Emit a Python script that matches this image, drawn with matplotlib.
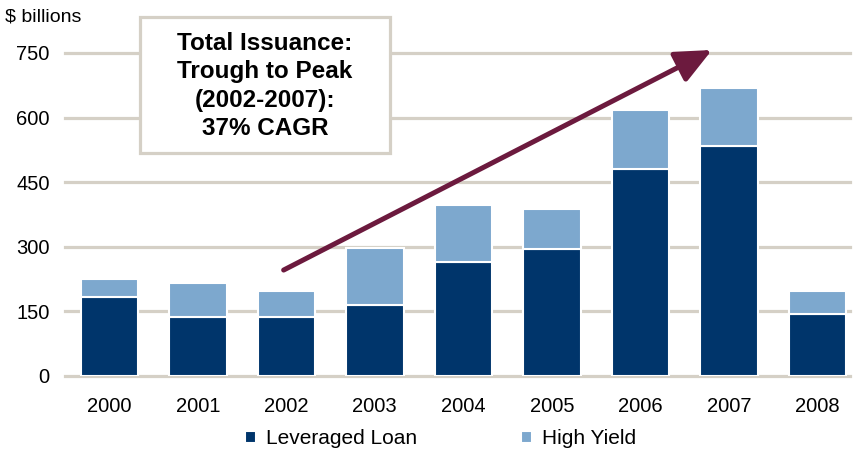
import matplotlib
matplotlib.use("Agg")
import matplotlib.pyplot as plt
from matplotlib.patches import FancyArrowPatch, Rectangle
import numpy as np

plt.rcParams['font.family'] = ['Liberation Sans', 'DejaVu Sans']

years = ["2000", "2001", "2002", "2003", "2004", "2005", "2006", "2007", "2008"]
leveraged_loan = [183, 137, 137, 165, 265, 295, 480, 535, 143]
high_yield = [42, 79, 60, 132, 132, 93, 138, 133, 54]
y_ticks = [0, 150, 300, 450, 600, 750]

navy = "#00356B"
light = "#7DA8CE"
grid_c = "#D5D0C6"
maroon = "#6C1A3E"

fig = plt.figure(figsize=(8.56, 4.51), dpi=100)
ax = fig.add_axes([0.076, 0.1663, 0.917, 0.7162])

x = np.arange(len(years))
w = 0.65
ax.bar(x, leveraged_loan, w, color=navy, edgecolor="white", linewidth=1.5,
       label="Leveraged Loan", zorder=3)
ax.bar(x, high_yield, w, bottom=leveraged_loan, color=light, edgecolor="white",
       linewidth=1.5, label="High Yield", zorder=3)

ax.set_xlim(-0.5, 8.37)
ax.set_ylim(0, 750)
ax.set_yticks(y_ticks)
ax.set_xticks(x)
ax.set_xticklabels(years)
for yv in y_ticks:
    ax.axhline(yv, color=grid_c, lw=2.3, zorder=1, clip_on=False)
for s in ax.spines.values():
    s.set_visible(False)
ax.tick_params(length=0, labelsize=14.5, colors="black")
ax.tick_params(axis="y", pad=11)
ax.tick_params(axis="x", pad=15)

fig.text(0.006, 0.962, "$ billions", fontsize=14, va="center", ha="left")

# Growth arrow from trough to peak
arrow = FancyArrowPatch((1.97, 246), (6.81, 757),
                        arrowstyle="-|>,head_length=22,head_width=10",
                        mutation_scale=1, color=maroon, lw=3.6,
                        shrinkA=0, shrinkB=0, zorder=5, clip_on=False)
ax.add_patch(arrow)

# Callout box
box = Rectangle((140 / 856, 1 - 153 / 451), 250 / 856, 136 / 451,
                transform=fig.transFigure, facecolor="white",
                edgecolor=grid_c, lw=2.3, zorder=6)
fig.patches.append(box)
fig.text(265 / 856, 1 - 86 / 451,
         "Total Issuance:\nTrough to Peak\n(2002-2007):\n37% CAGR",
         ha="center", va="center", fontsize=17.5, fontweight="bold",
         linespacing=1.3, zorder=7)

handles, labels = ax.get_legend_handles_labels()
fig.legend(handles, labels, loc="center", bbox_to_anchor=(0.515, 1 - 439 / 451),
           ncol=2, frameon=False, fontsize=15, handlelength=0.5,
           handleheight=0.5, handletextpad=0.5, columnspacing=5.0)

fig.savefig("out.png", dpi=100)
